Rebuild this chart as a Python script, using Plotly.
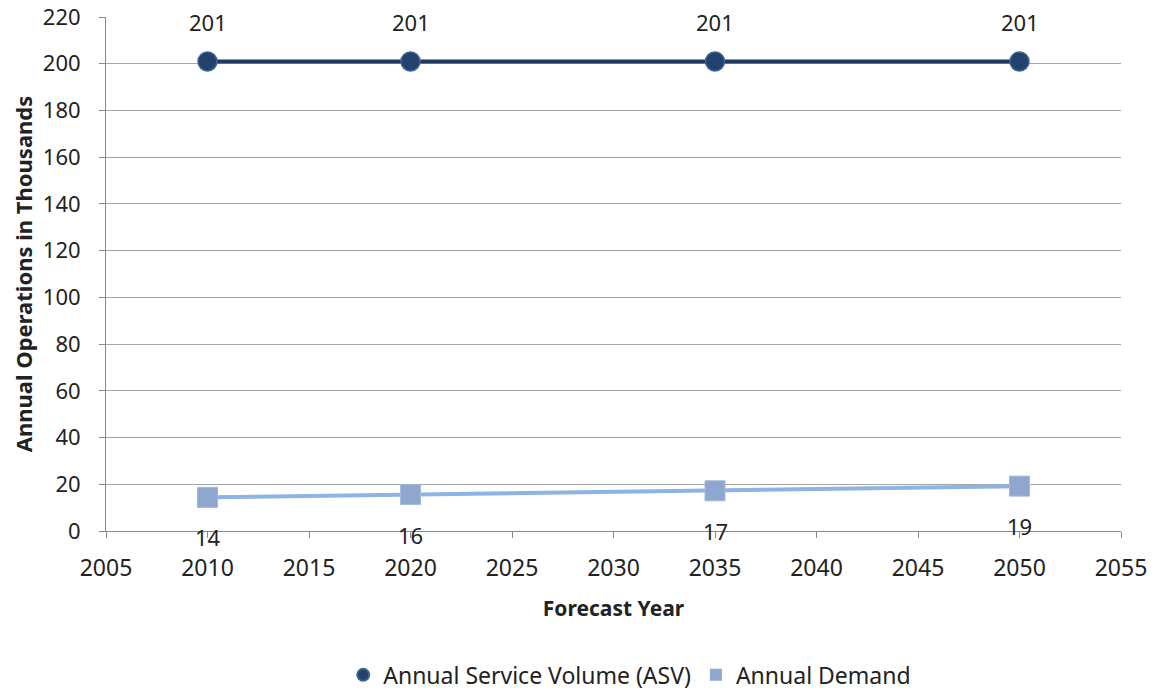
import plotly.graph_objects as go

years = [2010, 2020, 2035, 2050]
asv = [201, 201, 201, 201]
demand = [14.4, 15.6, 17.2, 19.2]
asv_labels = ["201", "201", "201", "201"]
demand_labels = ["14", "16", "17", "19"]

FONT = "Noto Sans"
fig = go.Figure()

fig.add_trace(go.Scatter(
    x=years, y=asv, mode="lines+markers", showlegend=False,
    line=dict(color="#1F3A60", width=4),
    marker=dict(symbol="circle", size=19, color="#22426C", line=dict(color="#3A6494", width=1.5)),
))
fig.add_trace(go.Scatter(
    x=years, y=demand, mode="lines+markers", showlegend=False,
    line=dict(color="#8DB4E2", width=4),
    marker=dict(symbol="square", size=20, color="#8FA6CF", line=dict(color="#A4B8DA", width=1)),
))
# legend-only entries (marker only)
fig.add_trace(go.Scatter(
    x=[None], y=[None], mode="markers", name="Annual Service Volume (ASV)",
    marker=dict(symbol="circle", size=17, color="#22426C", line=dict(color="#3A6494", width=1)),
))
fig.add_trace(go.Scatter(
    x=[None], y=[None], mode="markers", name="Annual Demand",
    marker=dict(symbol="square", size=17, color="#8FA6CF"),
))

for x, y, t in zip(years, asv, asv_labels):
    fig.add_annotation(x=x, y=y, text=t, showarrow=False, yshift=39,
                       font=dict(family=FONT, size=22, color="#222222"))
for x, y, t in zip(years, demand, demand_labels):
    fig.add_annotation(x=x, y=y, text=t, showarrow=False, yshift=-40,
                       font=dict(family=FONT, size=22, color="#222222"))

fig.update_layout(
    width=1157, height=698,
    margin=dict(l=98, r=44, t=9, b=146),
    plot_bgcolor="white", paper_bgcolor="white",
    font=dict(family=FONT, size=21, color="#222222"),
    xaxis=dict(
        range=[2005, 2055], tickmode="linear", tick0=2005, dtick=5,
        showgrid=False, showline=True, linecolor="#898989", linewidth=1,
        ticks="outside", ticklen=6, tickcolor="#898989", automargin=False,
        ticklabeloverflow="allow", ticklabelstandoff=10,
        tickfont=dict(family=FONT, size=23, color="#222222"),
        title=dict(text="<b>Forecast Year</b>", font=dict(family=FONT, size=21), standoff=19),
        zeroline=False,
    ),
    yaxis=dict(
        range=[0, 220], tickmode="linear", tick0=0, dtick=20,
        showgrid=True, gridcolor="#A6A6A6", gridwidth=1,
        showline=True, linecolor="#898989", linewidth=1,
        ticks="outside", ticklen=6, tickcolor="#898989", automargin=False,
        ticklabeloverflow="allow", ticklabelstandoff=14,
        tickfont=dict(family=FONT, size=22, color="#222222"),
        title=dict(text="<b>Annual Operations in Thousands</b>", font=dict(family=FONT, size=22), standoff=8),
        zeroline=False,
    ),
    legend=dict(orientation="h", x=0.516, xanchor="center", y=-0.28, yanchor="middle",
                font=dict(family=FONT, size=23), itemsizing="constant", traceorder="normal"),
)

fig.write_html("out.html")
